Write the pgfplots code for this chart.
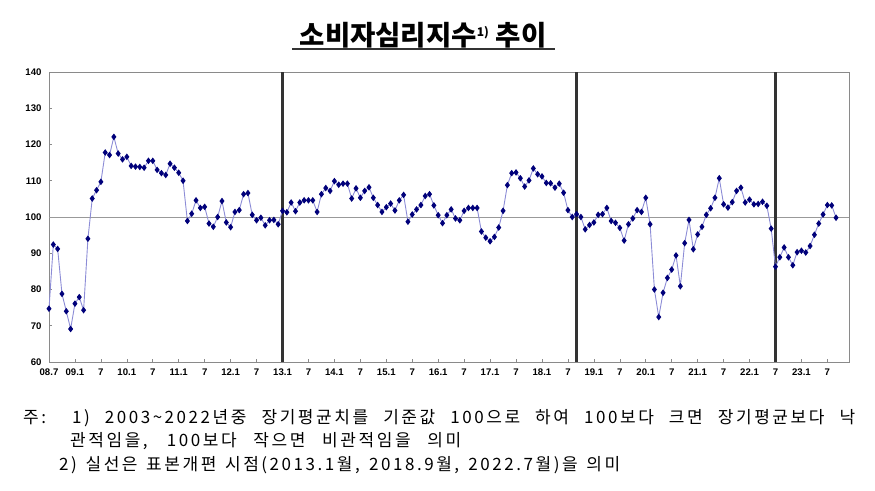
\documentclass[border=0pt]{standalone}
\usepackage{fontspec}
\setmainfont{Liberation Sans}
\newfontfamily\kr{Noto Sans CJK KR}
\newfontfamily\krnote[LetterSpace=15]{Noto Sans CJK KR}
\usepackage{pgfplots}
\pgfplotsset{compat=1.18}

\definecolor{ccsiline}{HTML}{8C8CD6}
\definecolor{ccsimark}{HTML}{00007A}
\definecolor{framegray}{HTML}{8A8A8A}

\begin{document}
\begin{tikzpicture}
\path[use as bounding box] (0,0) rectangle (875pt,490pt);

% title
\node[font={\kr\bfseries\fontsize{27.5}{30}\selectfont}] at (423pt,455pt)
  {소비자심리지수\textsuperscript{\fontsize{12}{13}\selectfont 1)} 추이};
\draw[line width=1.6pt, black!80] (292pt,441pt) -- (555pt,441pt);

\begin{axis}[
    at={(49pt,128pt)}, anchor=south west,
    width=800pt, height=290pt, scale only axis,
    xmin=0, xmax=185,
    ymin=60, ymax=140,
    xtick={0,6,...,180},
    xticklabels={08.7,09.1,7,10.1,7,11.1,7,12.1,7,13.1,7,14.1,7,15.1,7,16.1,7,
                 17.1,7,18.1,7,19.1,7,20.1,7,21.1,7,22.1,7,23.1,7},
    ytick={60,70,...,140},
    xtick pos=left, ytick pos=left,
    tick align=inside,
    major tick length=3pt,
    tick style={framegray, line width=0.6pt},
    axis line style={framegray, line width=0.9pt},
    /pgf/number format/assume math mode=true,
    tick label style={font=\bfseries\fontsize{9.6}{10}\selectfont},
    xticklabel style={yshift=-3pt},
    yticklabel style={xshift=-4pt},
    clip=false,
]
% 100 reference line
\draw[gray!80, line width=0.6pt] (axis cs:0,100) -- (axis cs:185,100);
% sample revisions: 2013.1, 2018.9, 2022.7
\draw[black!80, line width=2.2pt] (axis cs:54,60) -- (axis cs:54,140);
\draw[black!80, line width=2.2pt] (axis cs:122,60) -- (axis cs:122,140);
\draw[black!80, line width=2.2pt] (axis cs:168,60) -- (axis cs:168,140);

% month index: 0 = 2008.7
\addplot[color=ccsiline, line width=0.9pt,
         mark=diamond*, mark size=2.6pt,
         mark options={fill=ccsimark, draw=ccsimark}]
coordinates {
(0,74.7)(1,92.4)(2,91.2)(3,78.8)(4,74.0)(5,69.1)
(6,76.1)(7,77.9)(8,74.3)(9,94.0)(10,105.1)(11,107.4)(12,109.7)(13,117.8)(14,117.1)(15,122.1)(16,117.5)(17,115.9)
(18,116.6)(19,114.1)(20,113.9)(21,113.8)(22,113.6)(23,115.5)(24,115.5)(25,113.0)(26,112.1)(27,111.6)(28,114.7)(29,113.6)
(30,112.2)(31,110.0)(32,98.9)(33,100.9)(34,104.6)(35,102.5)(36,102.8)(37,98.2)(38,97.3)(39,100.0)(40,104.4)(41,98.5)
(42,97.2)(43,101.4)(44,101.9)(45,106.3)(46,106.6)(47,100.6)(48,99.1)(49,99.8)(50,97.7)(51,99.1)(52,99.2)(53,98.0)
(54,101.7)(55,101.3)(56,104.0)(57,101.6)(58,104.0)(59,104.6)(60,104.6)(61,104.6)(62,101.4)(63,106.3)(64,108.0)(65,107.2)
(66,109.9)(67,108.9)(68,109.2)(69,109.2)(70,105.1)(71,107.9)(72,105.3)(73,107.2)(74,108.2)(75,105.3)(76,103.3)(77,101.4)
(78,102.7)(79,103.7)(80,101.8)(81,104.6)(82,106.1)(83,98.7)(84,100.7)(85,102.1)(86,103.3)(87,105.8)(88,106.3)(89,103.2)
(90,100.5)(91,98.3)(92,100.5)(93,102.1)(94,99.6)(95,99.1)(96,101.7)(97,102.5)(98,102.5)(99,102.5)(100,96.0)(101,94.3)
(102,93.3)(103,94.5)(104,97.1)(105,101.7)(106,108.8)(107,112.1)(108,112.3)(109,110.7)(110,108.4)(111,110.1)(112,113.4)(113,111.8)
(114,111.2)(115,109.4)(116,109.3)(117,108.1)(118,109.2)(119,106.7)(120,101.9)(121,100.0)(122,100.8)(123,100.0)(124,96.6)(125,97.8)
(126,98.5)(127,100.6)(128,100.8)(129,102.5)(130,98.9)(131,98.4)(132,97.0)(133,93.5)(134,98.0)(135,99.6)(136,101.9)(137,101.4)
(138,105.3)(139,98.0)(140,80.0)(141,72.4)(142,79.1)(143,83.2)(144,85.5)(145,89.4)(146,80.9)(147,92.8)(148,99.2)(149,91.1)
(150,95.2)(151,97.3)(152,100.6)(153,102.4)(154,105.3)(155,110.7)(156,103.5)(157,102.6)(158,104.1)(159,107.2)(160,108.1)(161,104.0)
(162,104.8)(163,103.5)(164,103.6)(165,104.2)(166,103.1)(167,96.8)(168,86.3)(169,88.9)(170,91.6)(171,88.9)(172,86.7)(173,90.3)
(174,90.7)(175,90.2)(176,92.0)(177,95.1)(178,98.2)(179,100.7)(180,103.3)(181,103.2)(182,99.8)
};
\end{axis}

% notes
\node[anchor=west, inner sep=0pt, font={\krnote\fontsize{17}{20}\selectfont}] at (23pt,72pt)
  {\makebox[832pt][s]{주: 1) 2003\textasciitilde2022년중 장기평균치를 기준값 100으로 하여 100보다 크면 장기평균보다 낙}};
\node[anchor=west, inner sep=0pt, font={\krnote\fontsize{17}{20}\selectfont}] at (70pt,48.5pt)
  {\makebox[391pt][s]{관적임을, 100보다 작으면 비관적임을 의미}};
\node[anchor=west, inner sep=0pt, font={\krnote\fontsize{17}{20}\selectfont}] at (59pt,25pt)
  {\makebox[561pt][s]{2) 실선은 표본개편 시점(2013.1월, 2018.9월, 2022.7월)을 의미}};
\end{tikzpicture}
\end{document}
